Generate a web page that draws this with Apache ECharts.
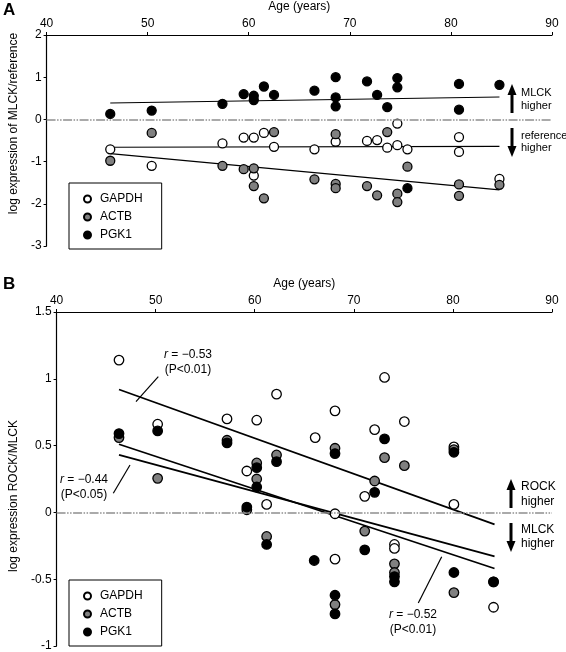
<!DOCTYPE html>
<html><head><meta charset="utf-8">
<script src="https://cdn.jsdelivr.net/npm/echarts@6/dist/echarts.min.js"></script>
<style>html,body{margin:0;padding:0;background:#fff}#c{width:566px;height:652px}</style>
</head><body><div id="c"></div>
<script>
const FONT = '"Liberation Sans", Arial, sans-serif';
const ageTicks = [40, 50, 60, 70, 80, 90];
const yTicksA = [-3, -2, -1, 0, 1, 2];
const yTicksB = [-1, -0.5, 0, 0.5, 1, 1.5];
const genes = ['GAPDH', 'ACTB', 'PGK1'];
const geneFill = ['#ffffff', '#808080', '#000000'];

// Panel A: log expression of MLCK / reference, [age, value]
const gapdhA = [[46.3,-0.71],[50.4,-1.10],[57.4,-0.57],[59.5,-0.43],[60.5,-0.43],[60.5,-1.33],[61.5,-0.32],[62.5,-0.65],[66.5,-0.71],[68.6,-0.53],[71.7,-0.51],[72.7,-0.49],[73.7,-0.67],[74.7,-0.61],[74.7,-0.10],[75.7,-0.71],[80.8,-0.42],[80.8,-0.77],[84.8,-1.41]];
const actbA = [[46.3,-0.98],[50.4,-0.32],[57.4,-1.10],[59.5,-1.18],[60.5,-1.16],[60.5,-1.58],[61.5,-1.87],[62.5,-0.30],[66.5,-1.42],[68.6,-0.35],[68.6,-1.53],[68.6,-1.63],[71.7,-1.58],[72.7,-1.80],[73.7,-0.30],[74.7,-1.76],[74.7,-1.96],[75.7,-1.12],[80.8,-1.54],[80.8,-1.81],[84.8,-1.55]];
const pgk1A = [[46.3,0.13],[50.4,0.21],[57.4,0.37],[59.5,0.60],[60.5,0.56],[60.5,0.46],[61.5,0.78],[62.5,0.58],[66.5,0.68],[68.6,1.00],[68.6,0.52],[68.6,0.31],[71.7,0.90],[72.7,0.58],[73.7,0.29],[74.7,0.98],[74.7,0.76],[75.7,-1.63],[80.8,0.84],[80.8,0.23],[84.8,0.82]];
// regression lines panel A (end points)
const fitGapdhA = [[46.3,-0.66],[84.8,-0.64]];
const fitActbA = [[46.3,-0.81],[84.8,-1.67]];
const fitPgk1A = [[46.3,0.39],[84.8,0.53]];

// Panel B: log expression ROCK / MLCK
const gapdhB = [[46.3,1.14],[50.2,0.66],[57.2,0.70],[59.2,0.31],[60.2,0.69],[61.2,0.06],[62.2,0.885],[66.1,0.56],[68.1,0.76],[68.1,-0.01],[68.1,-0.35],[71.1,0.12],[72.1,0.62],[73.1,1.01],[74.1,-0.24],[74.1,-0.27],[75.1,0.68],[80.1,0.49],[80.1,0.06],[84.1,-0.71]];
const actbB = [[46.3,0.56],[50.2,0.255],[57.2,0.54],[59.2,0.02],[60.2,0.37],[60.2,0.25],[61.2,-0.18],[62.2,0.43],[68.1,0.48],[68.1,-0.69],[71.1,-0.14],[72.1,0.235],[73.1,0.41],[74.1,-0.385],[74.1,-0.45],[75.1,0.35],[80.1,0.47],[80.1,-0.60],[84.1,-0.52]];
const pgk1B = [[46.3,0.59],[50.2,0.61],[57.2,0.52],[59.2,0.04],[60.2,0.335],[60.2,0.19],[61.2,-0.24],[62.2,0.38],[66.0,-0.36],[68.1,0.44],[68.1,-0.62],[68.1,-0.76],[71.1,-0.28],[72.1,0.15],[73.1,0.55],[74.1,-0.48],[74.1,-0.52],[80.1,0.45],[80.1,-0.45],[84.1,-0.52]];
const fitB1 = [[46.3,0.92],[84.2,-0.09]];   // r = -0.53
const fitB2 = [[46.3,0.51],[84.2,-0.42]];   // r = -0.52
const fitB3 = [[46.3,0.43],[84.2,-0.33]];   // r = -0.44

const scatterA = [gapdhA, actbA, pgk1A];
const scatterB = [gapdhB, actbB, pgk1B];
const fitsA = [fitGapdhA, fitActbA, fitPgk1A];
const fitsB = [fitB1, fitB2, fitB3];

const chart = echarts.init(document.getElementById('c'), null, {renderer: 'canvas'});

function xAx(gi) {
  return {
    gridIndex: gi, type: 'value', position: 'top',
    min: ageTicks[0], max: ageTicks[ageTicks.length - 1], interval: 10,
    name: 'Age (years)', nameLocation: 'middle', nameGap: 22,
    nameTextStyle: {fontFamily: FONT, fontSize: 12, color: '#000'},
    axisLine: {show: true, onZero: false, lineStyle: {color: '#000', width: 1.2}},
    axisTick: {show: true, inside: false, length: 3, lineStyle: {color: '#000'}},
    axisLabel: {fontFamily: FONT, fontSize: 12, color: '#000', margin: 5},
    splitLine: {show: false}
  };
}
function yAx(gi, ticks, step, name, pad) {
  return {
    gridIndex: gi, type: 'value', position: 'left',
    min: ticks[0], max: ticks[ticks.length - 1], interval: step,
    name: name, nameLocation: 'middle', nameGap: 26,
    nameTextStyle: {fontFamily: FONT, fontSize: 12, color: '#000', padding: pad},
    axisLine: {show: true, onZero: false, lineStyle: {color: '#000', width: 1.2}},
    axisTick: {show: true, inside: false, length: 3, lineStyle: {color: '#000'}},
    axisLabel: {fontFamily: FONT, fontSize: 12, color: '#000', margin: 5},
    splitLine: {show: false}
  };
}

const series = [];
function addPanel(gi, scat, fits, size, fitW) {
  fits.forEach(function (f, i) {
    series.push({
      type: 'line', xAxisIndex: gi, yAxisIndex: gi, data: f, symbol: 'none',
      lineStyle: {color: '#000', width: fitW}, silent: true, z: 2,
      markLine: i === 0 ? {
        silent: true, symbol: 'none', label: {show: false},
        lineStyle: {color: '#8f8f8f', width: 1.6, type: [9, 1.5, 1.5, 1.5, 1.5, 1.5]},
        data: [{yAxis: 0}]
      } : undefined
    });
  });
  scat.forEach(function (d, i) {
    series.push({
      name: genes[i], type: 'scatter', xAxisIndex: gi, yAxisIndex: gi, data: d,
      symbol: 'circle', symbolSize: size, z: 3 + i,
      itemStyle: {color: geneFill[i], borderColor: '#000', borderWidth: 1.3, opacity: 1}
    });
  });
}
addPanel(0, scatterA, fitsA, 9, 1.1);
addPanel(1, scatterB, fitsB, 9.5, 1.8);

function legendAt(top) {
  return {
    orient: 'vertical', left: 69, top: top, data: genes, selectedMode: false,
    icon: 'circle', itemWidth: 7, itemHeight: 7, itemGap: 6,
    padding: [10, 19, 8, 14], borderColor: '#000', borderWidth: 1,
    textStyle: {fontFamily: FONT, fontSize: 12, color: '#000', padding: [0, 0, 0, 4]}
  };
}

function arrow(x, yTip, yEnd) {
  const dir = yEnd > yTip ? 1 : -1;
  const head = 11;
  return [
    {type: 'line', shape: {x1: x, y1: yTip + dir * head - dir, x2: x, y2: yEnd}, style: {stroke: '#000', lineWidth: 3}},
    {type: 'polygon', shape: {points: [[x, yTip], [x - 4.5, yTip + dir * head], [x + 4.5, yTip + dir * head]]}, style: {fill: '#000'}}
  ];
}
function txt(x, y, t, size, align) {
  return {type: 'text', x: x, y: y, style: {text: t, fontFamily: FONT, fontSize: size || 12, fill: '#000', align: align || 'left', verticalAlign: 'middle'}};
}
function rtxt(x, y, val, align) {
  return {type: 'text', x: x, y: y, style: {
    text: '{i|r} = ' + val, fontFamily: FONT, fontSize: 12, fill: '#000', align: align || 'center', verticalAlign: 'middle',
    rich: {i: {fontStyle: 'italic', fontFamily: FONT, fontSize: 12}}
  }};
}
function seg(x1, y1, x2, y2) {
  return {type: 'line', shape: {x1: x1, y1: y1, x2: x2, y2: y2}, style: {stroke: '#000', lineWidth: 1.2}};
}

const graphics = [].concat(
  [{type: 'text', x: 3, y: 10, style: {text: 'A', fontFamily: FONT, fontSize: 17, fontWeight: 'bold', fill: '#000', verticalAlign: 'middle'}},
   {type: 'text', x: 3, y: 284, style: {text: 'B', fontFamily: FONT, fontSize: 17, fontWeight: 'bold', fill: '#000', verticalAlign: 'middle'}}],
  arrow(512, 84, 113), arrow(512, 157, 128),
  [txt(521, 93, 'MLCK', 11), txt(521, 105.5, 'higher', 11), txt(521, 136, 'reference', 11), txt(521, 147.5, 'higher', 11)],
  arrow(511, 479, 508), arrow(511, 552, 523),
  [txt(521, 487, 'ROCK', 12), txt(521, 501.5, 'higher', 12), txt(521, 530, 'MLCK', 12), txt(521, 544, 'higher', 12)],
  [rtxt(188, 355, '\u22120.53'), txt(188, 370, '(P<0.01)', 12, 'center'), seg(158.3, 376.7, 136, 401.7)],
  [rtxt(84, 480, '\u22120.44'), txt(84, 495, '(P<0.05)', 12, 'center'), seg(113.3, 493.3, 130, 465)],
  [rtxt(413, 615, '\u22120.52'), txt(413, 630, '(P<0.01)', 12, 'center'), seg(418.3, 603, 441.7, 556.7)]
);

chart.setOption({
  backgroundColor: '#fff',
  animation: false,
  grid: [
    {left: 44, right: 14, top: 34, height: 212, containLabel: false},
    {left: 44, right: 14, top: 312, height: 338, containLabel: false}
  ],
  xAxis: [xAx(0), xAx(1)],
  yAxis: [
    yAx(0, yTicksA, 1, 'log expression of MLCK/reference', [0, 0, 0, 34]),
    yAx(1, yTicksB, 0.5, 'log expression ROCK/MLCK', [0, 34, 0, 0])
  ],
  legend: [legendAt(183), legendAt(580)],
  series: series,
  graphic: graphics
});
</script></body></html>
